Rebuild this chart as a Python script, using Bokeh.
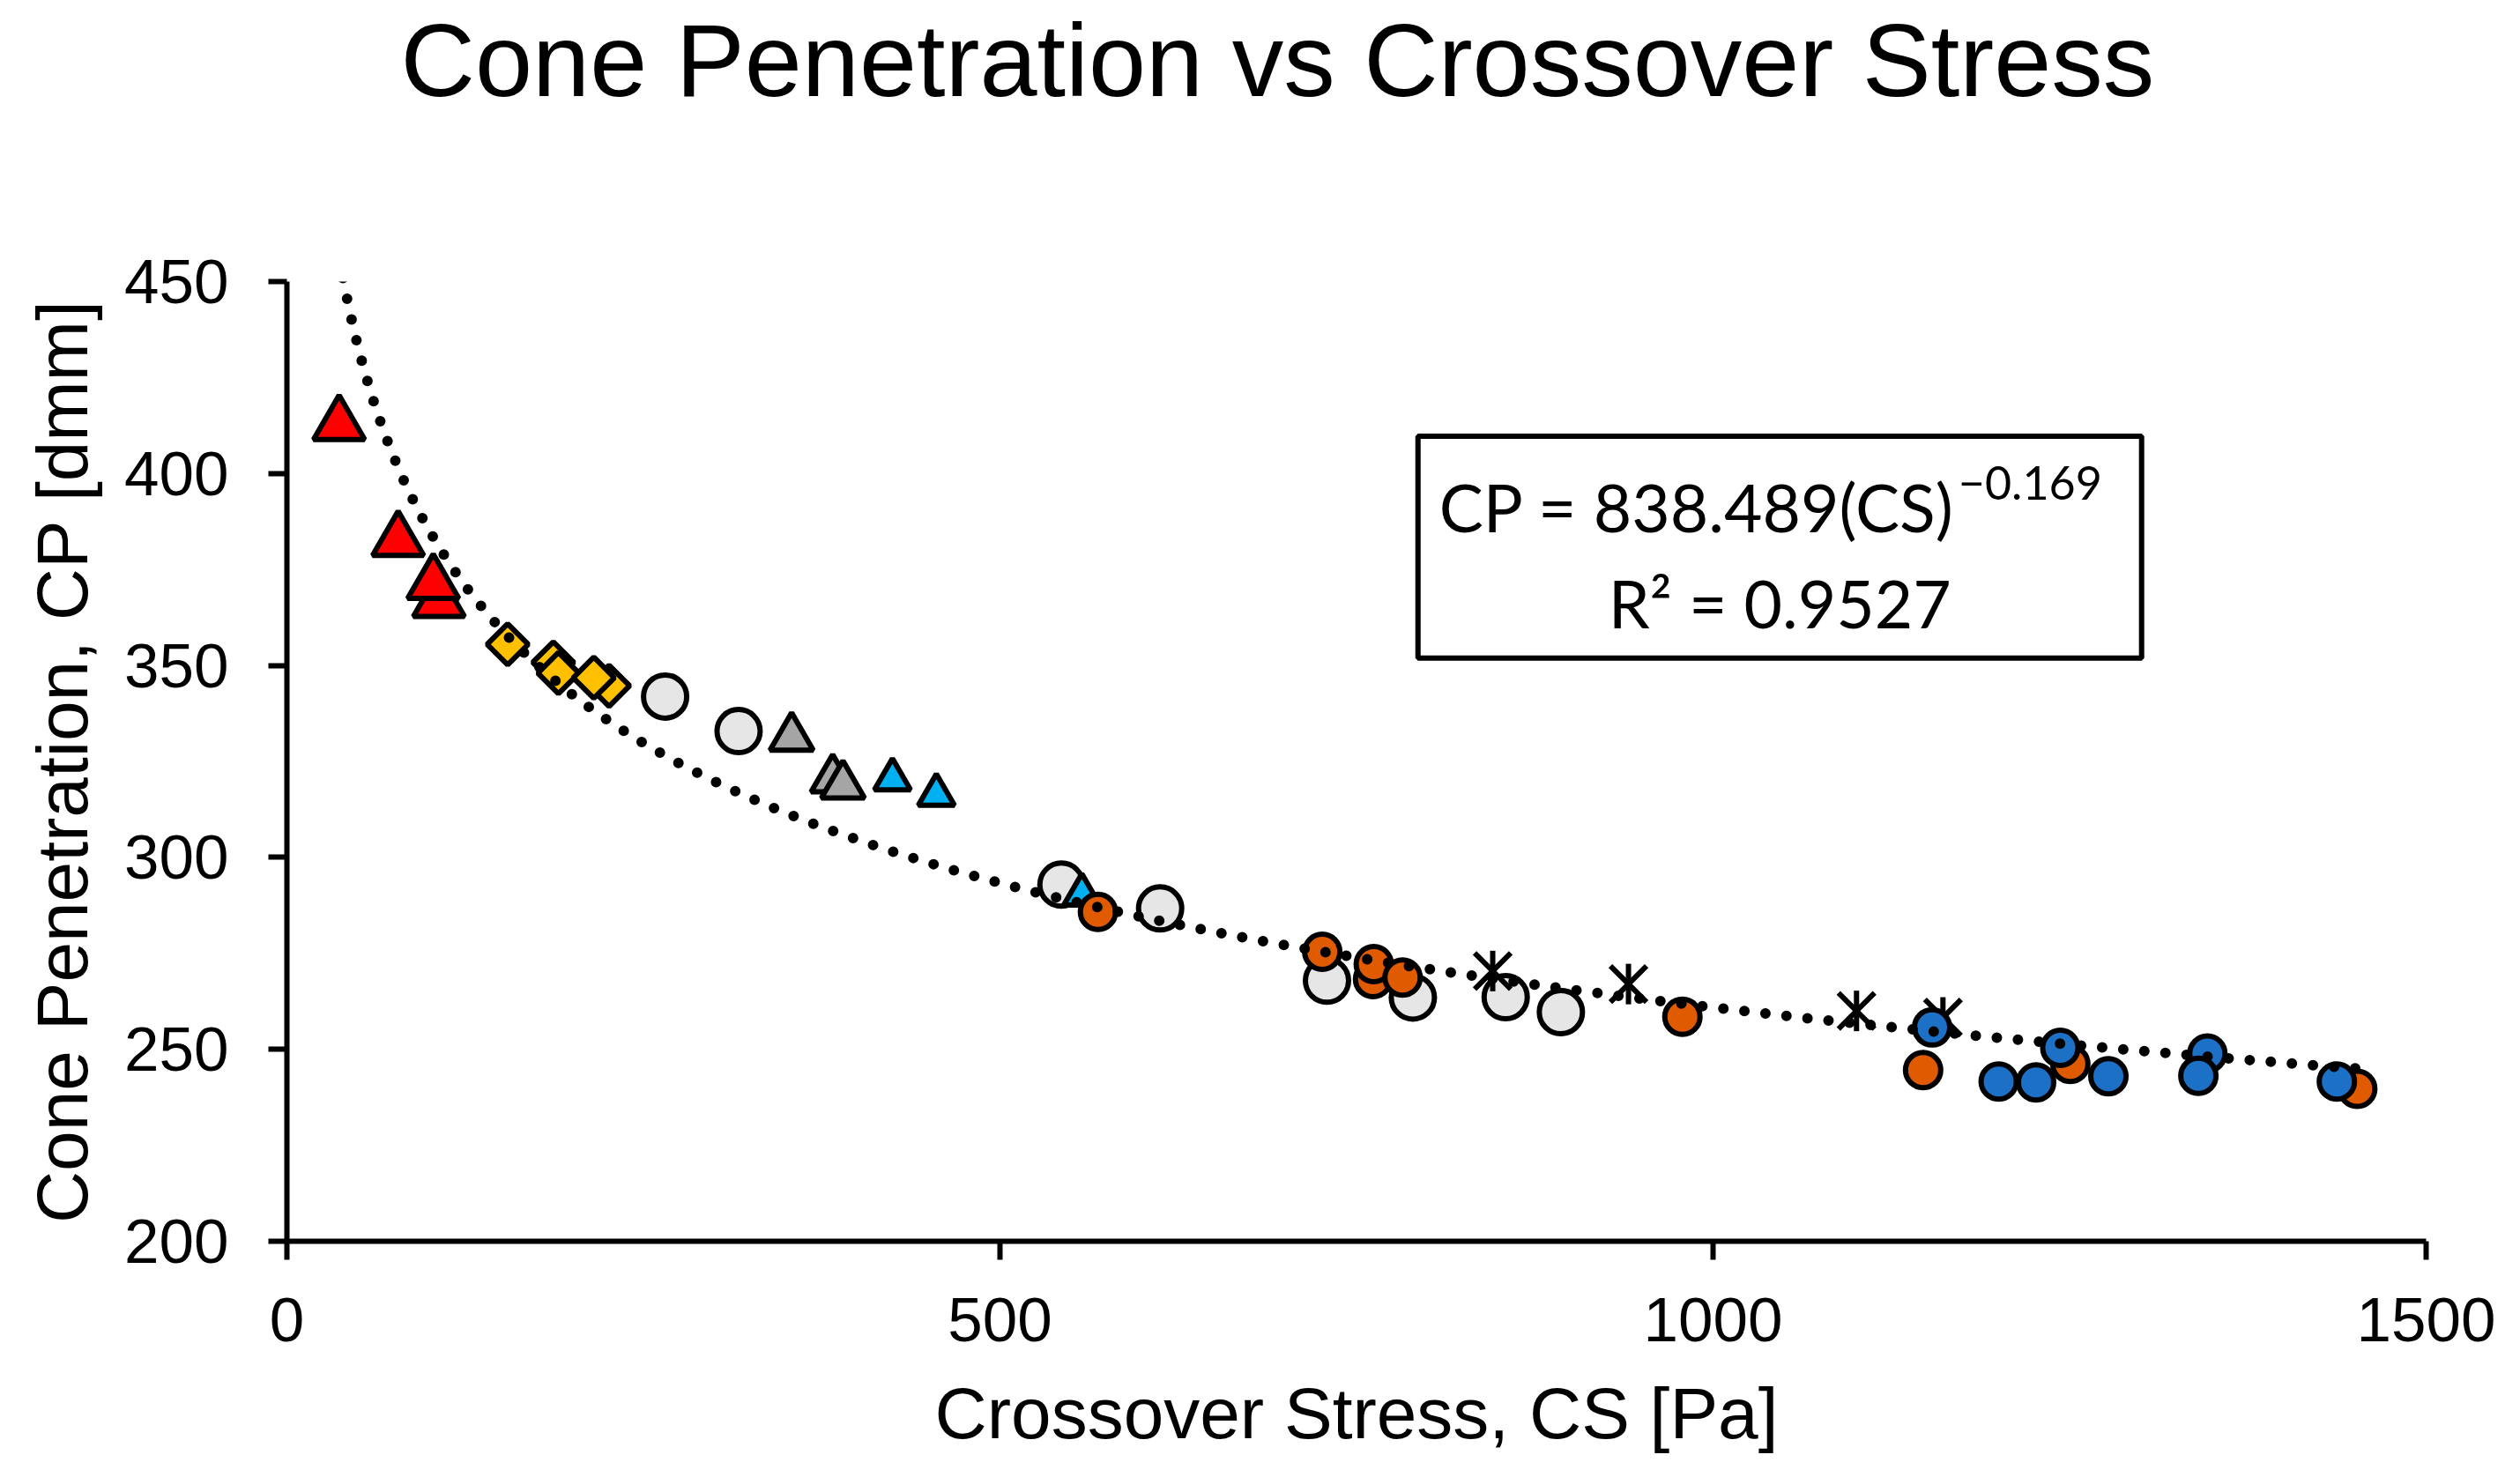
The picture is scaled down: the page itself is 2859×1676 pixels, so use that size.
import numpy as np
from bokeh.plotting import figure
from bokeh.models import Range1d, FixedTicker, Label, BoxAnnotation, Title
from bokeh.embed import file_html
from bokeh.resources import INLINE

# ---------------- data ----------------
red_cs = [36.6, 78.0, 106.6, 102.6]
red_cp = [412.7, 382.5, 366.6, 371.3]

yellow_cs = [154.8, 186.8, 190.4, 225.9, 215.2]
yellow_cp = [355.5, 350.8, 348.0, 344.7, 346.8]

lgray_cs = [265.2, 316.7, 543.1, 612.3, 729.3, 789.5, 854.6, 893.3]
lgray_cp = [341.9, 332.9, 292.9, 286.7, 267.9, 263.5, 263.6, 259.7]

gray_tri_cs = [353.9, 382.7, 389.9]
gray_tri_cp = [331.2, 320.3, 318.7]

cyan_tri_cs = [424.6, 455.4, 557.4]
cyan_tri_cp = [320.3, 316.3, 290.3]

orange_cs = [568.7, 726.0, 761.6, 762.1, 782.3, 978.5, 1147.3, 1250.5, 1451.7]
orange_cp = [285.8, 275.4, 268.3, 272.2, 268.7, 258.5, 244.6, 246.2, 239.7]

star_cs = [845.5, 940.7, 1100.6, 1161.2]
star_cp = [270.4, 267.0, 260.0, 258.3]

blue_cs = [1153.6, 1200.3, 1226.5, 1243.5, 1277.2, 1346.6, 1340.3, 1437.4]
blue_cp = [255.7, 241.6, 241.4, 250.4, 243.0, 248.9, 243.1, 241.6]

x_ticks = [0, 500, 1000, 1500]
y_ticks = [200, 250, 300, 350, 400, 450]

# power-law trendline shown on the chart: CP = A * CS^B
TREND_A = 838.489
TREND_B = -0.169
R2 = 0.9527

TITLE = "Cone Penetration vs Crossover Stress"
X_LABEL = "Crossover Stress, CS [Pa]"
Y_LABEL = "Cone Penetration, CP [dmm]"

# ---------------- figure ----------------
ARIAL = "Liberation Sans"
p = figure(width=2843, height=1660, output_backend="svg", toolbar_location=None,
           x_range=Range1d(0, 1500), y_range=Range1d(200, 450),
           min_border_left=325, min_border_right=91,
           min_border_top=319, min_border_bottom=252)
p.background_fill_color = "white"
p.border_fill_color = "white"
p.outline_line_color = None
p.xgrid.visible = False
p.ygrid.visible = False

p.title = Title(text=TITLE, align="left", offset=129, vertical_align="top",
                standoff=0, text_font=ARIAL, text_font_size="117px",
                text_font_style="normal", text_color="black")
# empty spacer panel between the frame and the title
p.add_layout(Title(text=" ", text_font_size="1px", standoff=181), "above")

for ax in (p.xaxis[0], p.yaxis[0]):
    ax.axis_line_width = 6
    ax.axis_line_color = "black"
    ax.major_tick_line_width = 6
    ax.major_tick_line_color = "black"
    ax.major_tick_out = 21
    ax.major_tick_in = 0
    ax.minor_tick_line_color = None
    ax.major_label_text_font = ARIAL
    ax.major_label_text_font_size = "71px"
    ax.major_label_text_color = "black"
    ax.axis_label_text_font = ARIAL
    ax.axis_label_text_font_size = "82px"
    ax.axis_label_text_font_style = "normal"
    ax.axis_label_text_color = "black"

p.xaxis.ticker = FixedTicker(ticks=x_ticks)
p.yaxis.ticker = FixedTicker(ticks=y_ticks)
p.xaxis.axis_label = X_LABEL
p.yaxis.axis_label = Y_LABEL
p.xaxis.major_label_standoff = 43
p.yaxis.major_label_standoff = 45
p.xaxis.axis_label_standoff = 33
p.yaxis.axis_label_standoff = 22

LW = 6
# red triangles
p.scatter(red_cs, red_cp, marker="triangle", size=58, fill_color="#FF0000",
          line_color="black", line_width=LW)
# yellow diamonds
p.scatter(yellow_cs, yellow_cp, marker="square", angle=np.pi / 4, size=33,
          fill_color="#FFC000", line_color="black", line_width=LW)
# light gray circles
p.scatter(lgray_cs, lgray_cp, marker="circle", size=49, fill_color="#E7E6E6",
          line_color="black", line_width=LW)
# gray triangles
p.scatter(gray_tri_cs, gray_tri_cp, marker="triangle", size=49, fill_color="#A5A5A5",
          line_color="black", line_width=LW)
# cyan triangles
p.scatter(cyan_tri_cs, cyan_tri_cp, marker="triangle", size=41, fill_color="#00B0F0",
          line_color="black", line_width=LW)
# orange circles
p.scatter(orange_cs, orange_cp, marker="circle", size=40, fill_color="#E05A00",
          line_color="black", line_width=LW)
# black asterisks (x plus vertical bar)
p.scatter(star_cs, star_cp, marker="x", size=58, line_color="black", line_width=LW)
p.scatter(star_cs, star_cp, marker="dash", angle=np.pi / 2, size=46,
          line_color="black", line_width=LW)
# blue circles
p.scatter(blue_cs, blue_cp, marker="circle", size=40, fill_color="#1C70C6",
          line_color="black", line_width=LW)

# trendline across the data range
all_cs = red_cs + yellow_cs + lgray_cs + gray_tri_cs + cyan_tri_cs + orange_cs + star_cs + blue_cs
tx = np.linspace(min(all_cs), max(all_cs), 600)
ty = TREND_A * tx ** TREND_B
p.line(tx, ty, line_color="black", line_width=12, line_dash="0 24", line_cap="round")

# equation box
box = BoxAnnotation(left=793.1, right=1300.5, top=409.7, bottom=351.9,
                    fill_color="white", fill_alpha=1.0, line_color="black",
                    line_width=6, line_alpha=1.0)
p.add_layout(box)

EQ_FONT = "Lato"
p.add_layout(Label(x=1169.5, y=391.4, text=f"CP = {TREND_A:.3f}(CS)",
                   text_align="right", text_baseline="alphabetic",
                   text_font=EQ_FONT, text_font_size="75px", text_color="black"))
p.add_layout(Label(x=1172.0, y=397.5, text=f"\u2212{abs(TREND_B):.3f}",
                   text_align="left", text_baseline="alphabetic",
                   text_font=EQ_FONT, text_font_size="52px", text_color="black"))
p.add_layout(Label(x=1046.8, y=366.4, text=f"R\u00b2 = {R2:.4f}",
                   text_align="center", text_baseline="alphabetic",
                   text_font=EQ_FONT, text_font_size="75px", text_color="black"))

open("out.html", "w").write(file_html(p, INLINE))
